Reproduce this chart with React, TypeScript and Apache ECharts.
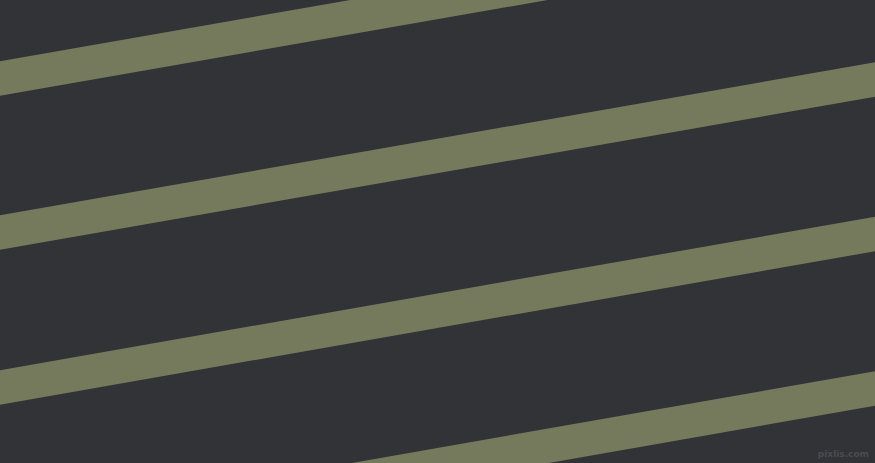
import React, { useEffect, useRef } from 'react';
import * as echarts from 'echarts';

type EChartsOption = echarts.EChartsOption;

// stripe centre lines, y at the left edge (x=0) and at the right edge (x=875)
const stripeNames = ['Stripe 1', 'Stripe 2', 'Stripe 3', 'Stripe 4'];
const leftY = [78.5, 232.5, 387.5, 542];
const rightY = [-74.5, 79.5, 234, 388.5];
const xEnds = [0, 875];

const Chart: React.FC = () => {
  const chartRef = useRef<HTMLDivElement | null>(null);

  useEffect(() => {
    if (chartRef.current) {
      const myChart = echarts.init(chartRef.current, undefined, { renderer: 'svg' });

      const option: EChartsOption = {
        animation: false,
        backgroundColor: '#313337',
        grid: { left: 0, right: 0, top: 0, bottom: 0 },
        xAxis: { type: 'value', min: 0, max: 875, show: false },
        yAxis: { type: 'value', min: 0, max: 463, inverse: true, show: false },
        series: stripeNames.map((name, i) => ({
          name,
          type: 'line',
          symbol: 'none',
          clip: true,
          silent: true,
          data: [
            [xEnds[0], leftY[i]],
            [xEnds[1], rightY[i]],
          ],
          lineStyle: { color: '#757a5d', width: 34, cap: 'square' },
        })),
        graphic: [
          {
            type: 'text',
            right: 6,
            bottom: 5,
            style: {
              text: 'pixlis.com',
              fill: '#4a4c50',
              font: 'bold 9px "DejaVu Sans", sans-serif',
            },
          },
        ],
      };

      myChart.setOption(option);

      return () => {
        myChart.dispose();
      };
    }
  }, []);

  return (
    <div
      ref={chartRef}
      style={{ position: 'fixed', left: 0, top: 0, width: '875px', height: '463px' }}
    />
  );
};

export default function App() {
  return <Chart />;
}
